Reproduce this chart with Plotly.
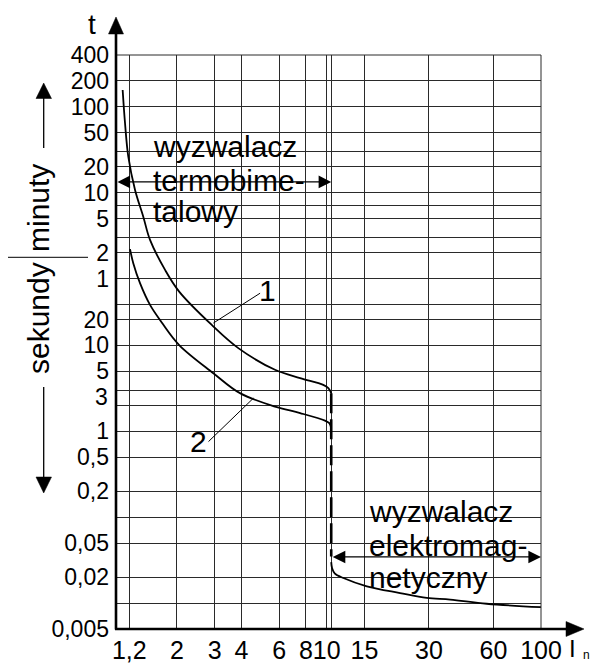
import numpy as np
import plotly.graph_objects as go

# ---------------- data ----------------
# x axis: multiple of rated current I/In ; y axis: time in seconds
x_ticks = [1.2, 2, 3, 4, 6, 8, 10, 10.5, 15, 30, 60, 100]
x_labels = ["1,2", "2", "3", "4", "6", "8", "10", "", "15", "30", "60", "100"]

y_minutes = [400, 200, 100, 50, 30, 20, 10, 7, 5, 3, 2, 1]
y_minute_labels = ["400", "200", "100", "50", "", "20", "10", "", "5", "", "2", "1"]
y_seconds = [30, 20, 10, 5, 3, 2, 1, 0.5, 0.2, 0.1, 0.05, 0.02, 0.01, 0.005]
y_second_labels = ["", "20", "10", "5", "", "", "1", "0,5", "0,2", "", "0,05", "0,02", "", "0,005"]
# label drawn slightly apart from its grid line (as in the drawing) to avoid crowding
y_extra_label = "3"
y_extra_label_value = 2.5

# curve 1 (upper thermal characteristic)
c1_I = [1.117, 1.146, 1.187, 1.276, 1.394, 1.499, 1.762, 2.05, 2.91, 3.87, 5.74, 7.52, 9.64, 10.18, 10.5]
c1_t = [9400, 3855, 1574, 645, 315, 169, 75.7, 42.3, 17.3, 9.3, 5.2, 4.16, 3.47, 3.18, 2.78]

# curve 2 (lower thermal characteristic)
c2_I = [1.209, 1.252, 1.346, 1.499, 1.70, 2.05, 2.96, 3.94, 5.74, 7.52, 9.82, 10.29, 10.5]
c2_t = [131.8, 90.5, 53.0, 29.6, 18.5, 10.1, 4.75, 2.78, 1.94, 1.63, 1.33, 1.245, 1.09]

# electromagnetic trip: vertical dashed drop and instantaneous branch
trip_I = [10.5, 10.5]
trip_t = [2.78, 0.035]
em_I = [10.5, 10.6, 10.9, 11.97, 15.4, 22.0, 29.3, 37.7, 55.8, 100]
em_t = [0.030, 0.0255, 0.0222, 0.0196, 0.0157, 0.0131, 0.0115, 0.0110, 0.00984, 0.00897]

# leader lines for curve numbers
lead1_I = [2.96, 4.89]
lead1_t = [18.2, 40.5]
lead2_I = [4.55, 2.81]
lead2_t = [2.43, 0.76]

# ---------------- layout helpers ----------------
FW, FH = 593, 663
L, T, W, H = 116, 55, 425, 574
B = FH - T - H
R = FW - L - W


def px(x):
    return (x - L) / W


def py(y):
    return (T + H - y) / H


FONT = "Liberation Sans, Arial, sans-serif"
INK = "black"

fig = go.Figure()

line_kw = dict(color=INK, width=1.8, shape="spline", smoothing=1.0)
fig.add_trace(go.Scatter(x=c1_I, y=c1_t, mode="lines", line=line_kw, hoverinfo="skip"))
fig.add_trace(go.Scatter(x=c2_I, y=c2_t, mode="lines", line=line_kw, hoverinfo="skip"))
fig.add_trace(go.Scatter(x=trip_I, y=trip_t, mode="lines",
                         line=dict(color=INK, width=2.6, dash="20px,6px"), hoverinfo="skip"))
fig.add_trace(go.Scatter(x=em_I, y=em_t, mode="lines", line=line_kw, hoverinfo="skip"))
fig.add_trace(go.Scatter(x=lead1_I, y=lead1_t, mode="lines",
                         line=dict(color=INK, width=1), hoverinfo="skip"))
fig.add_trace(go.Scatter(x=lead2_I, y=lead2_t, mode="lines",
                         line=dict(color=INK, width=1), hoverinfo="skip"))

y_tickvals = [m * 60 for m in y_minutes] + y_seconds
y_ticktext = y_minute_labels + y_second_labels

grid_col = "#2a2a2a"
fig.update_xaxes(type="log", range=[np.log10(1.04), 2], tickmode="array",
                 tickvals=x_ticks, ticktext=x_labels, tickangle=0, automargin=False,
                 showgrid=True, gridcolor=grid_col, gridwidth=1, showline=False,
                 zeroline=False, ticks="", ticklabelstandoff=4,
                 tickfont=dict(family=FONT, size=25, color=INK))
fig.update_yaxes(type="log", range=[np.log10(0.005), np.log10(24000)], tickmode="array",
                 tickvals=y_tickvals, ticktext=y_ticktext, automargin=False,
                 showgrid=True, gridcolor=grid_col, gridwidth=1, showline=False,
                 zeroline=False, ticks="", ticklabelstandoff=6,
                 tickfont=dict(family=FONT, size=23, color=INK))

shapes = []
# borders (top, right)
shapes.append(dict(type="line", xref="paper", yref="paper", x0=0, x1=1, y0=1, y1=1,
                   line=dict(color=grid_col, width=1)))
shapes.append(dict(type="line", xref="paper", yref="paper", x0=1, x1=1, y0=0, y1=1,
                   line=dict(color=grid_col, width=1)))
# thick axes with arrows
shapes.append(dict(type="line", xref="paper", yref="paper", x0=px(116), x1=px(116),
                   y0=py(629.5), y1=py(30), line=dict(color=INK, width=2.6)))
shapes.append(dict(type="line", xref="paper", yref="paper", x0=px(115), x1=px(570),
                   y0=py(629), y1=py(629), line=dict(color=INK, width=2.6)))


def tri(p1, p2, p3):
    return dict(type="path", xref="paper", yref="paper",
                path="M {} {} L {} {} L {} {} Z".format(px(p1[0]), py(p1[1]), px(p2[0]), py(p2[1]),
                                                        px(p3[0]), py(p3[1])),
                fillcolor=INK, line=dict(color=INK, width=0.5))


shapes.append(tri((116, 17), (108.5, 34), (123.5, 34)))
shapes.append(tri((584, 629), (566, 621.5), (566, 636.5)))
# left side direction arrows
shapes.append(dict(type="line", xref="paper", yref="paper", x0=px(43.7), x1=px(43.7),
                   y0=py(148), y1=py(97), line=dict(color=INK, width=1.3)))
shapes.append(tri((43.7, 83), (36, 98.5), (51.5, 98.5)))
shapes.append(dict(type="line", xref="paper", yref="paper", x0=px(43.7), x1=px(43.7),
                   y0=py(387), y1=py(478), line=dict(color=INK, width=1.3)))
shapes.append(tri((43.7, 493), (36, 477), (51.5, 477)))
# separator between minutes and seconds
shapes.append(dict(type="line", xref="paper", yref="paper", x0=px(8), x1=px(88),
                   y0=py(257.3), y1=py(257.3), line=dict(color=INK, width=1)))

annotations = []


def txt(text, x, y, size=30, xanchor="center", angle=0):
    annotations.append(dict(text=text, x=px(x), y=py(y), xref="paper", yref="paper",
                            showarrow=False, xanchor=xanchor, yanchor="middle",
                            textangle=angle,
                            font=dict(family=FONT, size=size, color=INK)))


txt("t", 92, 24, size=28)
txt("I", 572, 648, size=24)
txt("n", 586, 655, size=12)
txt("minuty", 38, 208, angle=-90)
txt("sekundy", 38, 318, angle=-90)
txt("wyzwalacz", 151, 146, xanchor="left")
txt("termobime-", 151, 180, xanchor="left")
txt("talowy", 151, 212, xanchor="left")
txt("wyzwalacz", 367, 511, xanchor="left")
txt("elektromag-", 367, 545, xanchor="left")
txt("netyczny", 367, 577, xanchor="left")
txt("1", 267, 290)
txt("2", 198, 441)

# the "3" second tick label, right-aligned like the other tick labels
annotations.append(dict(text=y_extra_label, x=0, y=np.log10(y_extra_label_value),
                        xref="paper", yref="y", xanchor="right", yanchor="middle",
                        xshift=-6, showarrow=False,
                        font=dict(family=FONT, size=23, color=INK)))

# double-headed range arrows (data coordinates; log axes use log10 units)
for x0, x1, yv in [(1.04, 10.5, 800), (10.5, 100, 0.0345)]:
    annotations.append(dict(x=np.log10(x1), y=np.log10(yv), ax=np.log10(x0), ay=np.log10(yv),
                            xref="x", yref="y", axref="x", ayref="y", text="",
                            showarrow=True, arrowhead=2, startarrowhead=2,
                            arrowside="end+start", arrowsize=2.1, startarrowsize=2.1,
                            arrowwidth=1.2, arrowcolor=INK, standoff=0, startstandoff=0))

fig.update_layout(width=FW, height=FH, margin=dict(l=L, r=R, t=T, b=B),
                  paper_bgcolor="white", plot_bgcolor="white", showlegend=False,
                  shapes=shapes, annotations=annotations,
                  font=dict(family=FONT, color=INK))

fig.write_html("out.html")
